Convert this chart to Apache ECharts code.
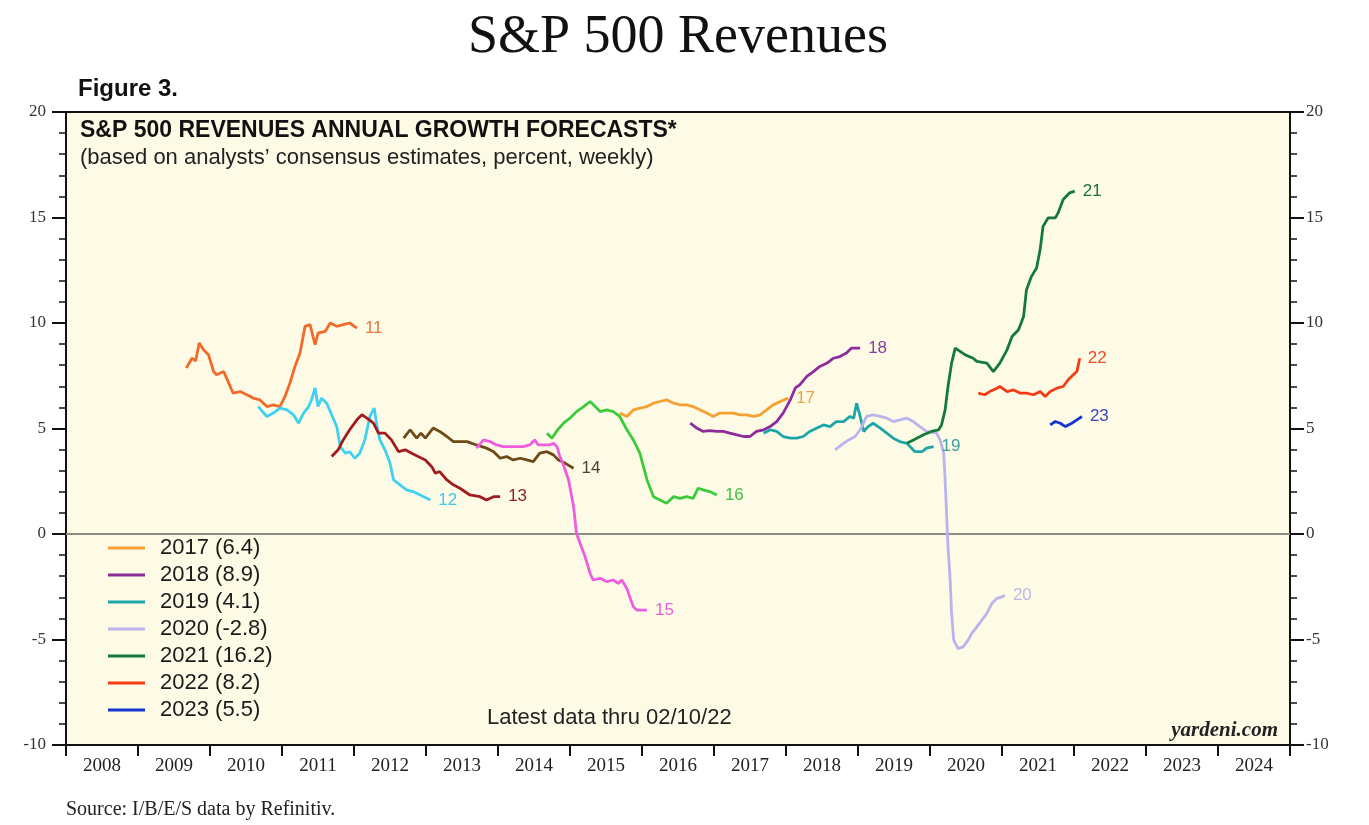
<!DOCTYPE html>
<html>
<head>
<meta charset="utf-8">
<script src="https://cdn.jsdelivr.net/npm/echarts@6/dist/echarts.min.js"></script>
<style>
html,body{margin:0;padding:0;background:#fff;}
#chart{width:1369px;height:825px;}
</style>
</head>
<body>
<div id="chart"></div>
<script>
// ---- Data (decimal year, percent) ----
const yearLabels = ['2008','2009','2010','2011','2012','2013','2014','2015','2016','2017','2018','2019','2020','2021','2022','2023','2024'];

const s2011 = [[2009.67,7.87],[2009.75,8.33],[2009.80,8.2],[2009.85,9.05],[2009.91,8.73],[2009.98,8.49],[2010.05,7.7],[2010.09,7.55],[2010.19,7.7],[2010.23,7.39],[2010.32,6.68],[2010.42,6.75],[2010.51,6.6],[2010.60,6.44],[2010.69,6.36],[2010.79,6.04],[2010.88,6.12],[2010.97,6.04],[2011.04,6.5],[2011.11,7.15],[2011.18,7.94],[2011.25,8.58],[2011.32,9.84],[2011.39,9.92],[2011.43,9.36],[2011.46,8.97],[2011.50,9.52],[2011.60,9.6],[2011.67,10.0],[2011.76,9.84],[2011.85,9.92],[2011.94,10.0],[2012.04,9.76]];
const s2012 = [[2010.67,6.04],[2010.79,5.57],[2010.88,5.73],[2010.97,5.97],[2011.07,5.88],[2011.16,5.65],[2011.23,5.25],[2011.30,5.73],[2011.37,6.04],[2011.41,6.36],[2011.46,6.92],[2011.50,6.04],[2011.55,6.44],[2011.62,6.2],[2011.69,5.65],[2011.76,5.09],[2011.81,4.14],[2011.88,3.83],[2011.94,3.9],[2012.01,3.59],[2012.08,3.83],[2012.15,4.46],[2012.22,5.57],[2012.28,5.97],[2012.32,5.09],[2012.36,4.46],[2012.43,3.99],[2012.50,3.36],[2012.55,2.56],[2012.64,2.33],[2012.73,2.09],[2012.82,2.01],[2012.92,1.85],[2013.01,1.69],[2013.06,1.61]];
const s2013 = [[2011.69,3.67],[2011.78,3.99],[2011.85,4.46],[2011.94,4.94],[2012.04,5.41],[2012.11,5.65],[2012.18,5.49],[2012.27,5.25],[2012.34,4.78],[2012.43,4.78],[2012.52,4.46],[2012.62,3.9],[2012.71,3.99],[2012.80,3.83],[2012.89,3.67],[2012.99,3.51],[2013.08,3.19],[2013.13,2.88],[2013.19,2.96],[2013.29,2.56],[2013.38,2.33],[2013.47,2.17],[2013.61,1.85],[2013.75,1.77],[2013.84,1.61],[2013.94,1.77],[2014.03,1.77]];
const s2014 = [[2012.69,4.54],[2012.78,4.94],[2012.87,4.54],[2012.93,4.78],[2012.99,4.54],[2013.10,5.02],[2013.19,4.86],[2013.29,4.62],[2013.38,4.38],[2013.47,4.38],[2013.57,4.38],[2013.70,4.22],[2013.84,4.07],[2013.94,3.9],[2014.03,3.59],[2014.12,3.67],[2014.21,3.51],[2014.31,3.59],[2014.40,3.51],[2014.49,3.43],[2014.58,3.83],[2014.68,3.9],[2014.77,3.75],[2014.84,3.51],[2014.93,3.36],[2015.05,3.12]];
const s2015 = [[2013.70,4.07],[2013.80,4.46],[2013.89,4.38],[2013.98,4.22],[2014.07,4.14],[2014.21,4.14],[2014.35,4.14],[2014.44,4.22],[2014.51,4.46],[2014.56,4.22],[2014.63,4.22],[2014.72,4.22],[2014.77,4.3],[2014.82,4.14],[2014.86,3.67],[2014.91,3.27],[2014.98,2.56],[2015.05,1.3],[2015.09,0.03],[2015.14,-0.44],[2015.21,-1.08],[2015.28,-1.87],[2015.32,-2.18],[2015.42,-2.1],[2015.51,-2.26],[2015.60,-2.18],[2015.67,-2.34],[2015.72,-2.18],[2015.79,-2.58],[2015.83,-2.98],[2015.88,-3.45],[2015.93,-3.61],[2016.02,-3.61],[2016.07,-3.61]];
const s2016 = [[2014.68,4.78],[2014.75,4.54],[2014.82,4.9],[2014.91,5.25],[2015.00,5.49],[2015.09,5.8],[2015.19,6.04],[2015.28,6.28],[2015.35,6.04],[2015.42,5.8],[2015.51,5.88],[2015.60,5.8],[2015.69,5.57],[2015.79,4.94],[2015.88,4.46],[2015.97,3.83],[2016.07,2.56],[2016.16,1.77],[2016.25,1.61],[2016.34,1.46],[2016.44,1.77],[2016.53,1.69],[2016.62,1.77],[2016.71,1.69],[2016.78,2.17],[2016.85,2.09],[2016.94,2.01],[2017.04,1.85]];
const s2017 = [[2015.69,5.73],[2015.79,5.57],[2015.88,5.88],[2015.97,5.97],[2016.07,6.04],[2016.16,6.2],[2016.25,6.28],[2016.34,6.36],[2016.44,6.2],[2016.53,6.12],[2016.62,6.12],[2016.71,6.04],[2016.81,5.88],[2016.90,5.73],[2016.99,5.57],[2017.08,5.73],[2017.17,5.73],[2017.27,5.73],[2017.36,5.65],[2017.45,5.65],[2017.55,5.57],[2017.64,5.65],[2017.73,5.88],[2017.82,6.12],[2017.92,6.28],[2018.03,6.44]];
const s2018 = [[2016.67,5.25],[2016.76,5.02],[2016.85,4.86],[2016.94,4.9],[2017.04,4.86],[2017.13,4.86],[2017.22,4.78],[2017.32,4.7],[2017.41,4.62],[2017.50,4.62],[2017.59,4.86],[2017.69,4.94],[2017.78,5.09],[2017.87,5.33],[2017.96,5.73],[2018.06,6.36],[2018.13,6.92],[2018.19,7.07],[2018.29,7.47],[2018.38,7.7],[2018.47,7.94],[2018.57,8.1],[2018.66,8.33],[2018.75,8.41],[2018.84,8.58],[2018.91,8.81],[2019.03,8.81]];
const s2019 = [[2017.69,4.78],[2017.78,4.94],[2017.87,4.86],[2017.96,4.62],[2018.06,4.54],[2018.15,4.54],[2018.24,4.62],[2018.33,4.86],[2018.43,5.02],[2018.52,5.17],[2018.61,5.09],[2018.70,5.33],[2018.80,5.33],[2018.89,5.57],[2018.94,5.49],[2018.98,6.2],[2019.03,5.57],[2019.08,4.86],[2019.14,5.09],[2019.21,5.25],[2019.31,5.02],[2019.40,4.78],[2019.49,4.54],[2019.58,4.38],[2019.68,4.3],[2019.79,3.9],[2019.89,3.9],[2019.95,4.07],[2020.05,4.14]];
const s2020 = [[2018.68,3.99],[2018.77,4.22],[2018.87,4.46],[2018.96,4.62],[2019.03,4.94],[2019.12,5.57],[2019.21,5.65],[2019.31,5.57],[2019.40,5.49],[2019.49,5.33],[2019.58,5.41],[2019.68,5.49],[2019.77,5.33],[2019.86,5.09],[2019.95,4.86],[2020.09,4.78],[2020.14,4.46],[2020.19,3.83],[2020.21,2.56],[2020.23,0.98],[2020.25,-0.6],[2020.28,-2.18],[2020.30,-3.76],[2020.33,-5.03],[2020.39,-5.43],[2020.46,-5.35],[2020.53,-5.03],[2020.58,-4.71],[2020.65,-4.4],[2020.72,-4.08],[2020.79,-3.76],[2020.86,-3.29],[2020.93,-3.05],[2021.00,-2.98],[2021.04,-2.9]];
const s2021 = [[2019.68,4.3],[2019.77,4.46],[2019.91,4.7],[2020.02,4.86],[2020.12,4.94],[2020.16,5.17],[2020.21,5.88],[2020.25,6.99],[2020.30,8.1],[2020.35,8.81],[2020.49,8.49],[2020.60,8.33],[2020.65,8.18],[2020.79,8.1],[2020.88,7.7],[2020.97,8.1],[2021.07,8.73],[2021.14,9.36],[2021.23,9.68],[2021.30,10.31],[2021.34,11.58],[2021.41,12.21],[2021.48,12.61],[2021.53,13.48],[2021.57,14.58],[2021.64,14.98],[2021.74,14.98],[2021.78,15.22],[2021.85,15.85],[2021.94,16.17],[2022.01,16.25]];
const s2022 = [[2020.67,6.68],[2020.76,6.6],[2020.83,6.75],[2020.93,6.91],[2020.97,6.99],[2021.07,6.75],[2021.16,6.83],[2021.25,6.68],[2021.34,6.68],[2021.44,6.6],[2021.53,6.75],[2021.60,6.52],[2021.67,6.75],[2021.76,6.91],[2021.85,6.99],[2021.92,7.31],[2021.99,7.55],[2022.04,7.7],[2022.08,8.33]];
const s2023 = [[2021.67,5.17],[2021.74,5.33],[2021.81,5.25],[2021.88,5.09],[2021.97,5.25],[2022.04,5.41],[2022.11,5.57]];

const seriesNames = ['2011','2012','2013','2014','2015','2016','2017 (6.4)','2018 (8.9)','2019 (4.1)','2020 (-2.8)','2021 (16.2)','2022 (8.2)','2023 (5.5)'];
const endTags = ['11','12','13','14','15','16','17','18','19','20','21','22','23'];
const legendNames = ['2017 (6.4)','2018 (8.9)','2019 (4.1)','2020 (-2.8)','2021 (16.2)','2022 (8.2)','2023 (5.5)'];
const seriesData = [s2011,s2012,s2013,s2014,s2015,s2016,s2017,s2018,s2019,s2020,s2021,s2022,s2023];

// ---- Styles ----
const lineColors = ['#F26A2A','#3FD0F2','#A01C1E','#6E4A16','#EE5CE0','#3CCB3C','#F5A032','#8E2C9C','#1CA6A6','#BAB4EC','#137A3C','#F23C14','#1535D0'];
const tagColors  = ['#E8743A','#3FC8EA','#8A2424','#4E4236','#E860D8','#3CC040','#EBA449','#8E3C96','#3AA0A0','#BDB6E6','#1F6E3C','#EE4A2A','#3A46C4'];

const series = seriesData.map((d, i) => ({
  name: seriesNames[i],
  type: 'line',
  xAxisIndex: 0,
  yAxisIndex: 0,
  data: d,
  showSymbol: false,
  symbol: 'none',
  color: lineColors[i],
  itemStyle: { color: lineColors[i] },
  lineStyle: { color: lineColors[i], width: 2.8 },
  z: 3,
  endLabel: {
    show: true,
    formatter: endTags[i],
    color: tagColors[i],
    fontSize: 17,
    fontFamily: 'Liberation Sans',
    distance: 8
  }
}));
series[0].markLine = {
  silent: true,
  symbol: ['none','none'],
  label: { show: false },
  lineStyle: { color: '#8C8C84', width: 2, type: 'solid' },
  data: [{ yAxis: 0 }],
  z: 1
};

const yCommon = {
  type: 'value', min: -10, max: 20, interval: 5,
  axisLine: { show: true, onZero: false, lineStyle: { color: '#111', width: 2 } },
  axisTick: { show: true, length: 14, lineStyle: { color: '#111', width: 2 } },
  minorTick: { show: true, splitNumber: 5, length: 7, lineStyle: { color: '#111', width: 1.5 } },
  splitLine: { show: false },
  axisLabel: { fontFamily: 'Liberation Serif', fontSize: 17, color: '#333' }
};

const chart = echarts.init(document.getElementById('chart'), null, { renderer: 'canvas' });
chart.setOption({
  animation: false,
  backgroundColor: '#ffffff',
  grid: {
    left: 66, right: 79, top: 112, bottom: 80,
    containLabel: false, outerBoundsMode: 'none',
    show: true, backgroundColor: '#FDFBE6', borderColor: '#111', borderWidth: 2
  },
  legend: {
    data: legendNames,
    orient: 'vertical',
    left: 108, top: 537,
    padding: 0,
    icon: 'rect',
    itemWidth: 37, itemHeight: 3,
    itemGap: 5,
    selectedMode: false,
    textStyle: { fontFamily: 'Liberation Sans', fontSize: 22, lineHeight: 22, color: '#1a1a1a', padding: [0,0,0,10] }
  },
  xAxis: [
    { type: 'value', min: 2008, max: 2025, show: false },
    { type: 'category', data: yearLabels, boundaryGap: true, position: 'bottom',
      axisLine: { show: true, onZero: false, lineStyle: { color: '#111', width: 2 } },
      axisTick: { show: true, length: 11, alignWithLabel: false, lineStyle: { color: '#111', width: 2 } },
      axisLabel: { fontFamily: 'Liberation Serif', fontSize: 19, color: '#222', margin: 12 },
      splitLine: { show: false } }
  ],
  yAxis: [
    Object.assign({}, yCommon, { position: 'left', axisLabel: Object.assign({}, yCommon.axisLabel, { margin: 20 }) }),
    Object.assign({}, yCommon, { position: 'right', axisLabel: Object.assign({}, yCommon.axisLabel, { margin: 16 }) })
  ],
  series: series,
  graphic: [
    { type: 'text', x: 678, y: 38, style: { text: 'S&P 500 Revenues', fill: '#111', font: 'normal 54px "Liberation Serif"', align: 'center', verticalAlign: 'middle' } },
    { type: 'text', x: 78, y: 89, style: { text: 'Figure 3.', fill: '#111', font: 'bold 24px "Liberation Sans"', align: 'left', verticalAlign: 'middle' } },
    { type: 'text', x: 80, y: 131, z: 10, style: { text: 'S&P 500 REVENUES ANNUAL GROWTH FORECASTS*', fill: '#111', font: 'bold 23px "Liberation Sans"', align: 'left', verticalAlign: 'middle' } },
    { type: 'text', x: 80, y: 158, z: 10, style: { text: '(based on analysts\u2019 consensus estimates, percent, weekly)', fill: '#222', font: 'normal 22px "Liberation Sans"', align: 'left', verticalAlign: 'middle' } },
    { type: 'text', x: 487, y: 718, z: 10, style: { text: 'Latest data thru 02/10/22', fill: '#222', font: 'normal 22px "Liberation Sans"', align: 'left', verticalAlign: 'middle' } },
    { type: 'text', x: 1278, y: 731, z: 10, style: { text: 'yardeni.com', fill: '#222', font: 'italic bold 21px "Liberation Serif"', align: 'right', verticalAlign: 'middle' } },
    { type: 'text', x: 66, y: 810, style: { text: 'Source: I/B/E/S data by Refinitiv.', fill: '#222', font: 'normal 20px "Liberation Serif"', align: 'left', verticalAlign: 'middle' } }
  ]
});
</script>
</body>
</html>
